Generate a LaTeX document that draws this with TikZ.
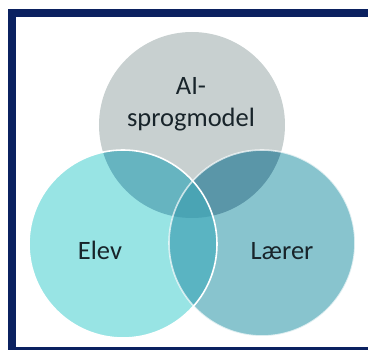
\documentclass[tikz,border=0pt]{standalone}
\usepackage{fontspec}
\setmainfont{Carlito}
\newlength{\du}
\setlength{\du}{1pt}
\definecolor{framecolor}{RGB}{11,33,96}
\definecolor{labelcolor}{RGB}{24,36,42}
\definecolor{aicolor}{RGB}{200,208,208}
\definecolor{elevcolor}{RGB}{152,228,228}
\definecolor{laerercolor}{RGB}{136,196,206}
\definecolor{aielevcolor}{RGB}{102,180,192}
\definecolor{ailaerercolor}{RGB}{90,150,168}
\definecolor{elevlaerercolor}{RGB}{90,180,194}
\definecolor{allcolor}{RGB}{74,164,180}

\begin{document}
\begin{tikzpicture}[
  rim/.style={draw=white, line width=1.600000\du},
  setlabel/.style={text=labelcolor, font=\fontsize{26.5}{32}\selectfont, align=center, inner sep=0pt}]
\pgftransformxscale{1.000000}
\pgftransformyscale{-1.000000}
\useasboundingbox (0.000000\du,0.000000\du) rectangle (368.000000\du,350.000000\du);
\fill[white] (0.000000\du,0.000000\du) rectangle (368.000000\du,350.000000\du);
% frame, open on the right
\fill[framecolor] (8.000000\du,9.000000\du) rectangle (368.000000\du,17.000000\du);
\fill[framecolor] (8.000000\du,9.000000\du) rectangle (16.000000\du,350.000000\du);
\fill[framecolor] (8.000000\du,347.000000\du) rectangle (368.000000\du,350.000000\du);
\coordinate (ai) at (192.000000\du,125.000000\du);
\coordinate (elev) at (123.000000\du,244.000000\du);
\coordinate (laerer) at (262.000000\du,243.000000\du);
% circles
\fill[aicolor] (ai) circle (93.000000\du);
\fill[elevcolor] (elev) circle (94.000000\du);
\fill[laerercolor] (laerer) circle (93.000000\du);
% overlaps
\begin{scope}
\clip (ai) circle (93.000000\du);
\fill[aielevcolor] (elev) circle (94.000000\du);
\fill[ailaerercolor] (laerer) circle (93.000000\du);
\end{scope}
\begin{scope}
\clip (elev) circle (94.000000\du);
\fill[elevlaerercolor] (laerer) circle (93.000000\du);
\clip (ai) circle (93.000000\du);
\fill[allcolor] (laerer) circle (93.000000\du);
\end{scope}
\draw[rim] (elev) circle (94.000000\du);
\draw[rim, draw opacity=0.7] (laerer) circle (93.000000\du);
% labels
\node[setlabel, anchor=base] (ailabel) at (191.000000\du,127.000000\du) {AI-\\sprogmodel};
\node[setlabel, anchor=base] (elevlabel) at (100.000000\du,260.000000\du) {Elev};
\node[setlabel, anchor=base] (laererlabel) at (282.000000\du,260.000000\du) {Lærer};
\end{tikzpicture}
\end{document}
